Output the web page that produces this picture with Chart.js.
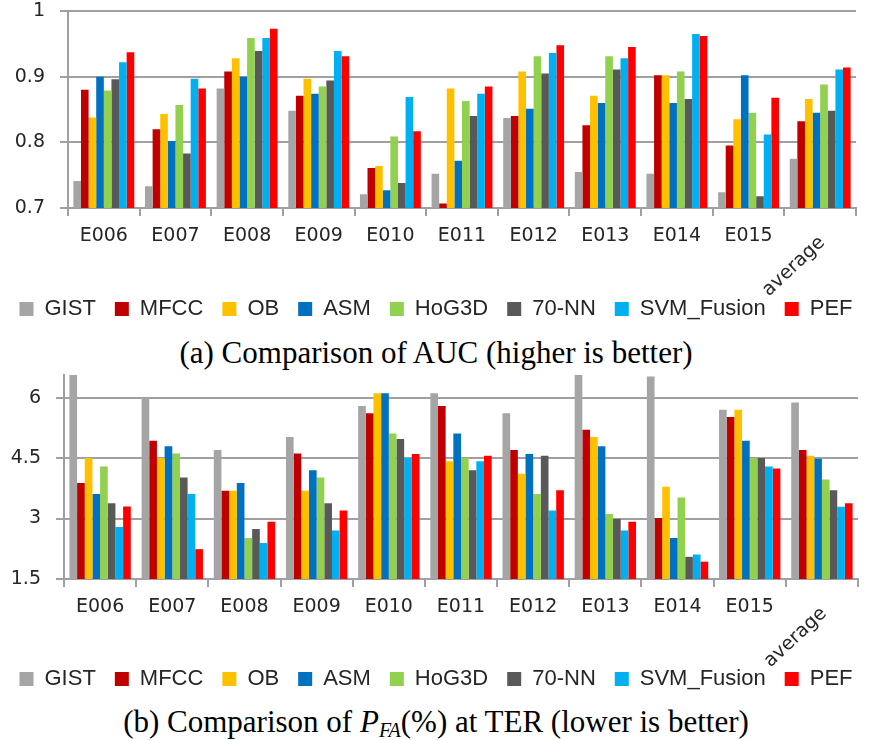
<!DOCTYPE html>
<html>
<head>
<meta charset="utf-8">
<script src="https://cdn.jsdelivr.net/npm/chart.js@4/dist/chart.umd.min.js"></script>
<style>
  body { margin: 0; background: #fff; }
  #wrap { position: relative; width: 872px; height: 740px; overflow: hidden; }
  canvas { position: absolute; left: 0; }
  .caption {
    position: absolute; left: 0; width: 872px; text-align: center;
    font-family: "Liberation Serif", "Times New Roman", serif; font-size: 31px;
    line-height: 34px; color: #000; white-space: nowrap;
  }
  .caption sub { font-size: 20px; vertical-align: -5px; line-height: 0; }
</style>
</head>
<body>
<div id="wrap">
  <canvas id="aucChart" width="872" height="330" style="top:0"></canvas>
  <div class="caption" style="top:336px">(a) Comparison of AUC (higher is better)</div>
  <canvas id="pfaChart" width="872" height="336" style="top:364px"></canvas>
  <div class="caption" style="top:705px">(b) Comparison of <i>P</i><sub><i>FA</i></sub>(%) at TER (lower is better)</div>
</div>
<script>
const categories = ['E006', 'E007', 'E008', 'E009', 'E010', 'E011', 'E012', 'E013', 'E014', 'E015', 'average'];
const methods = ['GIST', 'MFCC', 'OB', 'ASM', 'HoG3D', '70-NN', 'SVM_Fusion', 'PEF'];
const colors = ['#a5a5a5', '#c00000', '#ffc000', '#0070c0', '#92d050', '#595959', '#00b0f0', '#ff0000'];

// AUC per method
const aucGist = [0.741, 0.733, 0.882, 0.848, 0.721, 0.752, 0.837, 0.755, 0.752, 0.724, 0.775];
const aucMfcc = [0.880, 0.820, 0.908, 0.871, 0.761, 0.707, 0.840, 0.826, 0.902, 0.795, 0.832];
const aucOb   = [0.838, 0.843, 0.928, 0.897, 0.764, 0.882, 0.908, 0.871, 0.902, 0.835, 0.866];
const aucAsm  = [0.900, 0.802, 0.900, 0.874, 0.727, 0.772, 0.851, 0.860, 0.860, 0.902, 0.845];
const aucHog  = [0.879, 0.857, 0.959, 0.885, 0.809, 0.863, 0.931, 0.931, 0.908, 0.845, 0.888];
const aucNn   = [0.896, 0.783, 0.939, 0.894, 0.738, 0.840, 0.905, 0.911, 0.866, 0.718, 0.848];
const aucSvm  = [0.922, 0.897, 0.959, 0.939, 0.869, 0.874, 0.936, 0.928, 0.965, 0.812, 0.911];
const aucPef  = [0.937, 0.882, 0.973, 0.931, 0.817, 0.885, 0.948, 0.945, 0.962, 0.868, 0.914];

// P_FA (%) at TER per method
const pfaGist = [6.90, 5.98, 4.70, 5.02, 5.79, 6.11, 5.61, 6.80, 6.52, 5.70, 5.88];
const pfaMfcc = [3.88, 4.93, 3.69, 4.61, 5.61, 5.79, 4.70, 5.20, 3.01, 5.52, 4.70];
const pfaOb   = [4.50, 4.50, 3.69, 3.69, 6.11, 4.42, 4.11, 5.02, 3.79, 5.70, 4.56];
const pfaAsm  = [3.61, 4.79, 3.88, 4.20, 6.11, 5.11, 4.60, 4.79, 2.52, 4.93, 4.48];
const pfaHog  = [4.29, 4.61, 2.52, 4.02, 5.11, 4.50, 3.61, 3.11, 3.52, 4.50, 3.97];
const pfaNn   = [3.38, 4.02, 2.74, 3.38, 4.97, 4.20, 4.56, 2.99, 2.05, 4.50, 3.70];
const pfaSvm  = [2.79, 3.61, 2.39, 2.70, 4.50, 4.42, 3.20, 2.70, 2.11, 4.29, 3.29];
const pfaPef  = [3.30, 2.24, 2.92, 3.20, 4.60, 4.56, 3.70, 2.92, 1.93, 4.24, 3.38];

const aucTicks = [0.7, 0.8, 0.9, 1];
const pfaTicks = [1.5, 3, 4.5, 6];

const axisColor = '#a0a0a0';
const textColor = '#262626';
const tickFont = { family: '"DejaVu Sans", Verdana, sans-serif', size: 19 };

// category names under the axis; the last one is slanted
const catLabels = {
  id: 'catLabels',
  afterDraw(chart) {
    const ctx = chart.ctx;
    const xs = chart.scales.x;
    const base = chart.chartArea.bottom;
    ctx.save();
    ctx.font = '19px "DejaVu Sans", Verdana, sans-serif';
    ctx.fillStyle = textColor;
    ctx.textBaseline = 'middle';
    categories.forEach((c, i) => {
      const px = xs.getPixelForValue(i);
      if (i === categories.length - 1) {
        ctx.save();
        ctx.translate(px + 2, base + 32);
        ctx.rotate(-43 * Math.PI / 180);
        ctx.textAlign = 'right';
        ctx.fillText(c, 0, 0);
        ctx.restore();
      } else {
        ctx.textAlign = 'center';
        ctx.fillText(c, px, base + 28);
      }
    });
    ctx.restore();
  }
};

function makeChart(id, series, yMin, yMax, ticks, leftW, rightW, axisH, topPad) {
  return new Chart(document.getElementById(id), {
    type: 'bar',
    data: {
      labels: categories,
      datasets: methods.map((m, i) => ({
        label: m,
        data: series[i],
        backgroundColor: colors[i],
        borderWidth: 0,
        categoryPercentage: 0.85,
        barPercentage: 1.0
      }))
    },
    options: {
      responsive: false,
      animation: false,
      layout: { padding: 0 },
      plugins: {
        tooltip: { enabled: false },
        legend: {
          position: 'bottom',
          labels: {
            boxWidth: 14,
            boxHeight: 14,
            padding: 19,
            color: textColor,
            font: { family: '"Liberation Sans", Arial, sans-serif', size: 22 }
          }
        }
      },
      scales: {
        x: {
          grid: { offset: true, drawOnChartArea: false, drawTicks: true, tickLength: 8, color: axisColor, lineWidth: 2 },
          border: { color: axisColor, width: 2 },
          ticks: { display: false },
          afterFit(s) { s.height = axisH; }
        },
        y: {
          min: yMin,
          max: yMax,
          grid: { color: axisColor, lineWidth: 2, tickLength: 8 },
          border: { color: axisColor, width: 2 },
          ticks: {
            padding: 15,
            color: textColor,
            font: tickFont,
            callback: v => String(v)
          },
          afterBuildTicks(s) { s.ticks = ticks.map(v => ({ value: v })); },
          afterFit(s) {
            s.width = leftW;
            s.paddingTop = topPad;
            s.paddingBottom = 0;
          }
        },
        yr: {
          position: 'right',
          grid: { display: false },
          border: { display: false },
          ticks: { display: false },
          afterFit(s) { s.width = rightW; }
        }
      }
    },
    plugins: [catLabels]
  });
}

makeChart('aucChart',
  [aucGist, aucMfcc, aucOb, aucAsm, aucHog, aucNn, aucSvm, aucPef],
  0.7, 1, aucTicks, 68, 16, 71, 11);

makeChart('pfaChart',
  [pfaGist, pfaMfcc, pfaOb, pfaAsm, pfaHog, pfaNn, pfaSvm, pfaPef],
  1.5, 6.56, pfaTicks, 64, 14, 70, 11);
</script>
</body>
</html>
